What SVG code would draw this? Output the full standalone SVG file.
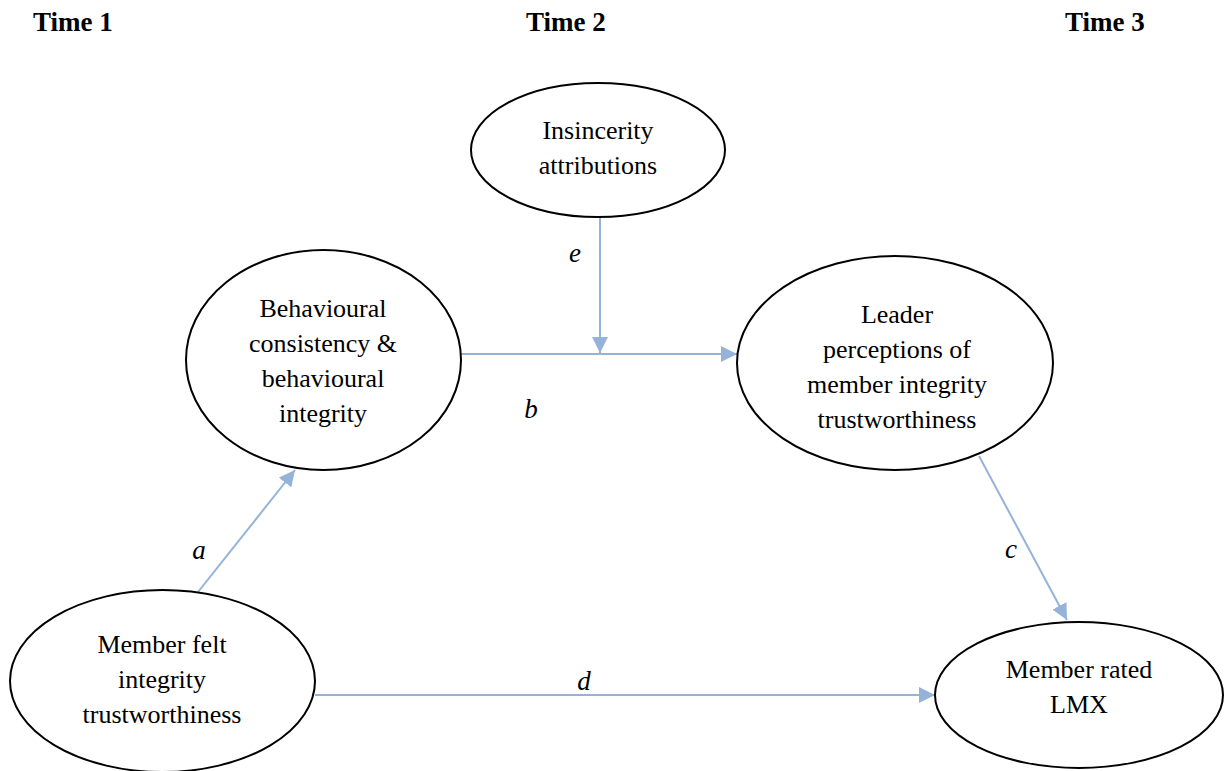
<svg xmlns="http://www.w3.org/2000/svg" width="1227" height="771" viewBox="0 0 1227 771">
<defs>
<style>
.n{fill:#fff;stroke:#000;stroke-width:2}
.t{font-family:"Liberation Serif","Times New Roman",serif;font-size:26px;fill:#000;text-anchor:middle}
.h{font-family:"Liberation Serif","Times New Roman",serif;font-size:27px;font-weight:bold;fill:#000}
.l{font-family:"Liberation Serif","Times New Roman",serif;font-size:27px;font-style:italic;fill:#000;text-anchor:middle}
.c{stroke:#95b3d7;stroke-width:2;fill:none;marker-end:url(#ah)}
</style>
<marker id="ah" viewBox="0 0 10 10" refX="10" refY="5" markerWidth="8" markerHeight="8" markerUnits="strokeWidth" orient="auto">
<path d="M0,0 L10,5 L0,10 z" fill="#95b3d7"/>
</marker>
</defs>
<rect width="1227" height="771" fill="#fff"/>
<g id="headers">
<text class="h" x="33" y="31">Time 1</text>
<text class="h" x="526" y="31">Time 2</text>
<text class="h" x="1065" y="31">Time 3</text>
</g>
<g id="connectors">
<line class="c" x1="198" y1="592" x2="295" y2="470"/>
<line class="c" x1="600" y1="218" x2="600" y2="353"/>
<line class="c" x1="461" y1="354" x2="737" y2="354"/>
<line class="c" x1="979" y1="456" x2="1067" y2="620"/>
<line class="c" x1="315" y1="695" x2="935" y2="695"/>
<text class="l" x="199" y="559">a</text>
<text class="l" x="575" y="262">e</text>
<text class="l" x="531" y="418">b</text>
<text class="l" x="1011" y="558">c</text>
<text class="l" x="584" y="690">d</text>
</g>
<g id="insincerity">
<ellipse class="n" cx="598" cy="150" rx="127" ry="67"/>
<text class="t" x="598" y="139">Insincerity</text>
<text class="t" x="598" y="174">attributions</text>
</g>
<g id="behavioural">
<ellipse class="n" cx="323.5" cy="360" rx="137.5" ry="110"/>
<text class="t" x="323" y="317">Behavioural</text>
<text class="t" x="323" y="352">consistency &amp;</text>
<text class="t" x="323" y="387">behavioural</text>
<text class="t" x="323" y="422">integrity</text>
</g>
<g id="leader">
<ellipse class="n" cx="895" cy="363" rx="158" ry="107"/>
<text class="t" x="897" y="323">Leader</text>
<text class="t" x="897" y="358">perceptions of</text>
<text class="t" x="897" y="393">member integrity</text>
<text class="t" x="897" y="428">trustworthiness</text>
</g>
<g id="member-felt">
<ellipse class="n" cx="162.5" cy="681" rx="152.5" ry="91"/>
<text class="t" x="162" y="653">Member felt</text>
<text class="t" x="162" y="688">integrity</text>
<text class="t" x="162" y="723">trustworthiness</text>
</g>
<g id="member-rated">
<ellipse class="n" cx="1079" cy="695" rx="144" ry="73"/>
<text class="t" x="1079" y="678">Member rated</text>
<text class="t" x="1079" y="713">LMX</text>
</g>
</svg>
